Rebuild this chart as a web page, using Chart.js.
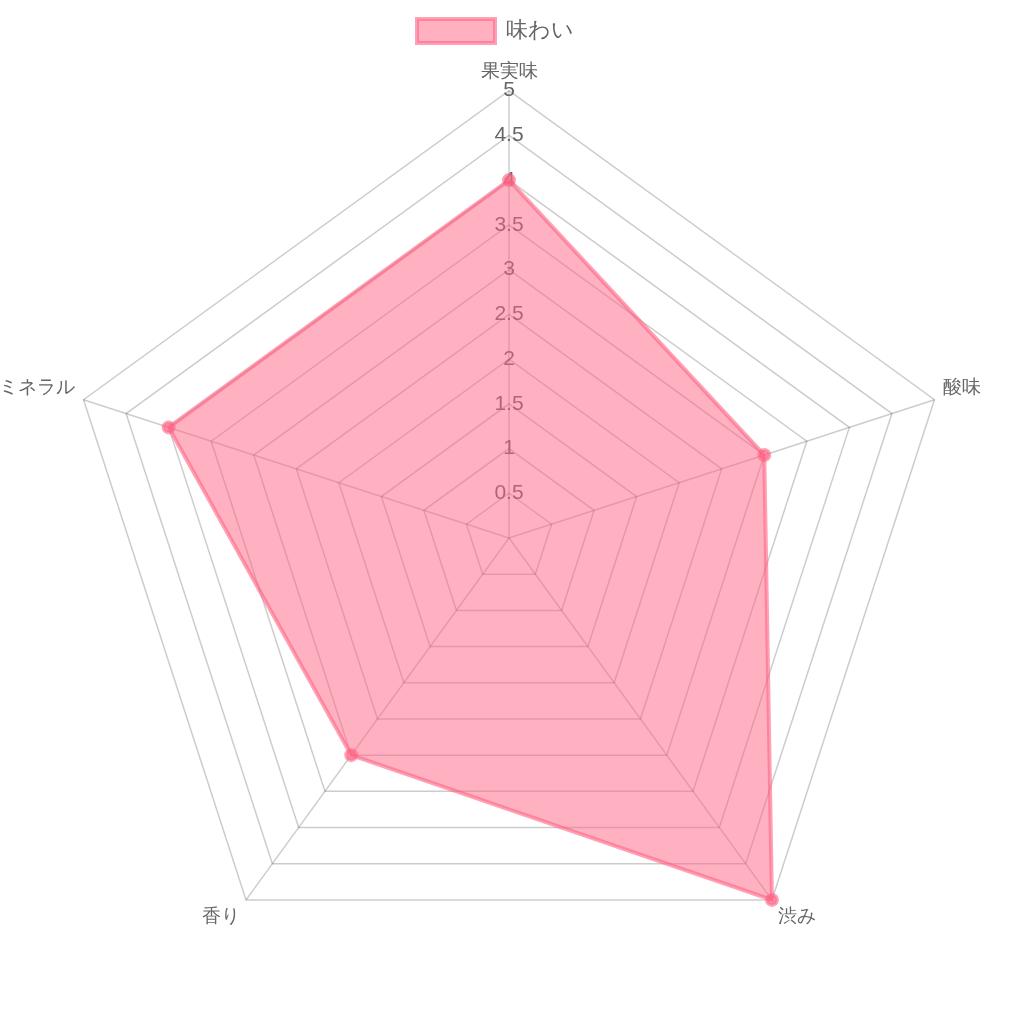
<!DOCTYPE html>
<html lang="ja">
  <head>
    <meta charset="UTF-8" />
    <title>味わい</title>
    <style>
      html, body { margin: 0; padding: 0; background: #fff; overflow: hidden; }
      /* a little wider than the window so the radar sits like the original */
      .chart-container { position: relative; width: 1023px; height: 1012px; margin-left: -11px; }
    </style>
  </head>
  <body>
    <div class="chart-container">
      <canvas id="myChart"></canvas>
    </div>
    <script src="https://cdn.jsdelivr.net/npm/chart.js"></script>
    <script>
      const labels = ["果実味", "酸味", "渋み", "香り", "ミネラル"];
      const seriesName = "味わい";
      const values = [4, 3, 5, 3, 4];

      const ctx = document.getElementById("myChart").getContext("2d");
      new Chart(ctx, {
        type: "radar",
        data: {
          labels: labels,
          datasets: [{
            label: seriesName,
            data: values,
            backgroundColor: "rgba(255, 99, 132, 0.5)",
            borderColor: "rgba(255, 99, 132, 0.6)",
            borderWidth: 4,
            pointBackgroundColor: "rgba(255, 99, 132, 0.6)",
            pointBorderColor: "rgba(255, 99, 132, 0.6)",
            pointRadius: 5
          }]
        },
        options: {
          responsive: true,
          maintainAspectRatio: false,
          animation: false,
          layout: { padding: { left: -10, right: 0, top: 0, bottom: 6 } },
          plugins: {
            legend: {
              labels: {
                font: { size: 22 },
                color: "#666",
                boxWidth: 78,
                boxHeight: 24,
                padding: 19
              }
            }
          },
          scales: {
            r: {
              min: 0,
              max: 5,
              ticks: {
                stepSize: 0.5,
                showLabelBackdrop: false,
                backdropPadding: 0,
                color: "#666",
                font: { size: 21 },
                callback: (v) => v
              },
              pointLabels: {
                font: { size: 19, lineHeight: 1 },
                color: "#666",
                padding: -1
              },
              grid: { color: "rgba(0,0,0,0.2)", lineWidth: 1.5 },
              angleLines: { color: "rgba(0,0,0,0.2)", lineWidth: 1.5 }
            }
          }
        }
      });
    </script>
  </body>
</html>
